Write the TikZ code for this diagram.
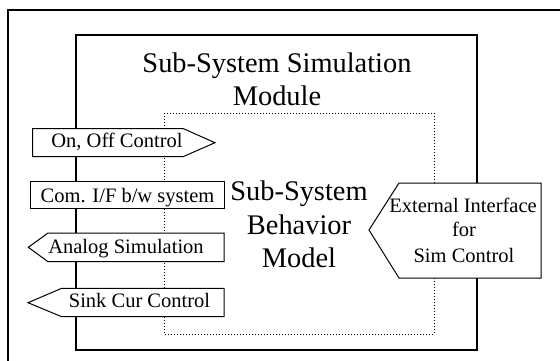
\documentclass[tikz,border=0pt]{standalone}
\usepackage{fontspec}
\setmainfont{Liberation Serif}
\begin{document}
\begin{tikzpicture}[x=1pt,y=-1pt,
  big/.style={font=\fontsize{28.4}{33}\selectfont, inner sep=0pt, anchor=base},
  small/.style={font=\fontsize{20.5}{25}\selectfont, inner sep=0pt, anchor=base},
  tagbox/.style={draw=black, fill=white, line width=1pt, line join=miter},
  frame/.style={draw=black, line width=1.5pt},
  module/.style={draw=black, line width=1.3pt},
  behav/.style={draw=black, dotted, line width=1pt}]
\useasboundingbox (0,0) rectangle (560,360);
\fill[white] (0,0) rectangle (560,360);
% outer frame (only top and left visible)
\draw[frame] (8,365) -- (8,10) -- (565,10);
% module box
\draw[module] (76,35) rectangle (477,350);
% behavior model dotted box
\draw[behav] (164,113) rectangle (434,334);
% titles
\node[big] (t1) at (277,72) {Sub-System Simulation};
\node[big] (t2) at (277,105) {Module};
\node[big] (b1) at (299,200) {Sub-System};
\node[big] (b2) at (299,234) {Behavior};
\node[big] (b3) at (299,267) {Model};
% left tags
\draw[tagbox] (32.5,128.5) -- (183,128.5) -- (215,142.7) -- (183,156.7) -- (32.5,156.7) -- cycle;
\node[small] (onoff) at (117,147) {On, Off Control};
\draw[tagbox] (30,181) rectangle (224,208);
\node[small] (com) at (127.5,202) {Com. I/F b/w system};
\draw[tagbox] (28.3,247.3) -- (48,233) -- (224,233) -- (224,261.7) -- (48,261.7) -- cycle;
\node[small] (analog) at (126,253) {Analog Simulation};
\draw[tagbox] (28,302.7) -- (61.7,288.3) -- (224,288.3) -- (224,316.7) -- (61.7,316.7) -- cycle;
\node[small] (sink) at (139.5,307) {Sink Cur Control};
% external interface
\draw[tagbox] (369,230) -- (399,183) -- (541,183) -- (541,278) -- (399,278) -- cycle;
\node[small] (e1) at (463,212) {External Interface};
\node[small] (e2) at (464,236) {for};
\node[small] (e3) at (464,262) {Sim Control};
\end{tikzpicture}
\end{document}
